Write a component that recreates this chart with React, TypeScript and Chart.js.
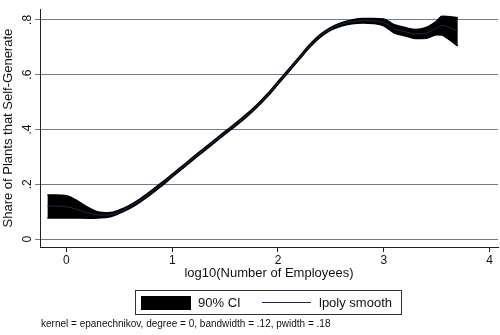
import React, { useEffect, useRef } from "react";
import { Chart, registerables } from "chart.js";

Chart.register(...registerables);

// ---- data ----
const xs = [-0.18, -0.1, 0, 0.1, 0.2, 0.3, 0.4, 0.5, 0.6, 0.7, 0.8, 0.9, 1.0, 1.1, 1.2, 1.3, 1.4, 1.5, 1.6, 1.7, 1.8, 1.9, 2.0, 2.1, 2.2, 2.3, 2.4, 2.5, 2.6, 2.7, 2.8, 2.9, 3.0, 3.1, 3.2, 3.3, 3.4, 3.5, 3.55, 3.6, 3.7];
const fit = [0.120, 0.120, 0.118, 0.108, 0.096, 0.088, 0.088, 0.100, 0.118, 0.142, 0.170, 0.200, 0.232, 0.263, 0.295, 0.326, 0.357, 0.388, 0.418, 0.450, 0.485, 0.525, 0.570, 0.615, 0.660, 0.705, 0.742, 0.768, 0.784, 0.793, 0.797, 0.796, 0.790, 0.767, 0.757, 0.749, 0.752, 0.770, 0.780, 0.776, 0.757];
const ciLow = [0.077, 0.077, 0.077, 0.077, 0.076, 0.077, 0.080, 0.094, 0.112, 0.136, 0.164, 0.194, 0.227, 0.258, 0.290, 0.321, 0.352, 0.383, 0.413, 0.445, 0.480, 0.520, 0.565, 0.610, 0.655, 0.700, 0.737, 0.763, 0.778, 0.786, 0.789, 0.787, 0.778, 0.752, 0.742, 0.732, 0.733, 0.746, 0.745, 0.733, 0.705];
const ciHigh = [0.161, 0.161, 0.158, 0.140, 0.116, 0.099, 0.096, 0.106, 0.124, 0.148, 0.176, 0.206, 0.237, 0.268, 0.300, 0.331, 0.362, 0.393, 0.423, 0.455, 0.490, 0.530, 0.575, 0.620, 0.665, 0.710, 0.747, 0.773, 0.790, 0.800, 0.805, 0.805, 0.803, 0.782, 0.772, 0.765, 0.772, 0.796, 0.813, 0.812, 0.808];

const xTicks = [0, 1, 2, 3, 4];
const xTickLabels = ["0", "1", "2", "3", "4"];
const yTicks = [0, 0.2, 0.4, 0.6, 0.8];
const yTickLabels = ["0", ".2", ".4", ".6", ".8"];

const xTitle = "log10(Number of Employees)";
const yTitle = "Share of Plants that Self-Generate";
const legendLabels = ["90% CI", "lpoly smooth"];
const noteText = "kernel = epanechnikov, degree = 0, bandwidth = .12, pwidth = .18";

const FONT = "'Liberation Sans', Arial, sans-serif";
const TEXT = "#111111";
const GRID = "#6f7f8c";
const LINE = "#1d2b48";

const pts = (ys: number[]) => xs.map((x, i) => ({ x, y: ys[i] }));

const legendPlugin = {
  id: "stataLegend",
  afterDraw(chart: any) {
    const ctx = chart.ctx;
    ctx.save();
    // legend box
    ctx.strokeStyle = "#333333";
    ctx.lineWidth = 1;
    ctx.strokeRect(135.5, 290.5, 266, 24);
    // CI swatch
    ctx.fillStyle = "#000000";
    ctx.fillRect(141, 296, 50, 14);
    ctx.font = `13px ${FONT}`;
    ctx.fillStyle = TEXT;
    ctx.textBaseline = "middle";
    ctx.textAlign = "left";
    ctx.fillText(legendLabels[0], 198, 303);
    // line swatch
    ctx.strokeStyle = LINE;
    ctx.beginPath();
    ctx.moveTo(262, 302.5);
    ctx.lineTo(311, 302.5);
    ctx.stroke();
    ctx.fillText(legendLabels[1], 319, 303);
    // note
    ctx.font = `10px ${FONT}`;
    ctx.fillText(noteText, 41, 324);
    ctx.restore();
  },
};

export default function App() {
  const ref = useRef<HTMLCanvasElement | null>(null);
  useEffect(() => {
    document.body.style.margin = "0";
    const canvas = ref.current;
    if (!canvas) return;
    const chart = new Chart(canvas, {
      type: "line",
      data: {
        datasets: [
          {
            label: legendLabels[1],
            data: pts(fit),
            borderColor: LINE,
            borderWidth: 1,
            pointRadius: 0,
            fill: false,
            cubicInterpolationMode: "monotone",
          },
          {
            label: "ci-low",
            data: pts(ciLow),
            borderColor: "#000000",
            borderWidth: 1.5,
            pointRadius: 0,
            fill: false,
            cubicInterpolationMode: "monotone",
          },
          {
            label: legendLabels[0],
            data: pts(ciHigh),
            borderColor: "#000000",
            backgroundColor: "#000000",
            borderWidth: 1.5,
            pointRadius: 0,
            fill: "-1",
            cubicInterpolationMode: "monotone",
          },
        ],
      },
      options: {
        responsive: false,
        animation: false,
        events: [],
        layout: { padding: { top: 4, right: 2, left: 0, bottom: 53 } },
        plugins: { legend: { display: false }, tooltip: { enabled: false } },
        scales: {
          x: {
            type: "linear",
            min: -0.25,
            max: 4.08,
            afterBuildTicks: (s: any) => {
              s.ticks = xTicks.map((v) => ({ value: v }));
            },
            afterFit: (s: any) => {
              s.height = 35;
            },
            ticks: {
              callback: (v: any) => xTickLabels[xTicks.indexOf(Number(v))] ?? "",
              font: { family: FONT, size: 12 },
              color: TEXT,
              padding: 1,
              maxRotation: 0,
              autoSkip: false,
            },
            grid: { drawOnChartArea: false, drawTicks: true, tickLength: 5, color: "#222222" },
            border: { display: true, color: "#222222", width: 1 },
            title: {
              display: true,
              text: xTitle,
              font: { family: FONT, size: 13 },
              color: TEXT,
              padding: { top: 0, bottom: 1 },
            },
          },
          y: {
            type: "linear",
            min: -0.029,
            max: 0.839,
            afterBuildTicks: (s: any) => {
              s.ticks = yTicks.map((v) => ({ value: v }));
            },
            afterFit: (s: any) => {
              s.width = 40;
            },
            ticks: {
              callback: (v: any) => {
                const i = yTicks.findIndex((t) => Math.abs(t - Number(v)) < 1e-9);
                return i >= 0 ? yTickLabels[i] : "";
              },
              font: { family: FONT, size: 12 },
              color: TEXT,
              padding: 2,
              minRotation: 90,
              maxRotation: 90,
              crossAlign: "center",
              autoSkip: false,
            },
            grid: { drawOnChartArea: true, drawTicks: true, tickLength: 5, color: GRID },
            border: { display: true, color: "#222222", width: 1 },
            title: {
              display: true,
              text: yTitle,
              font: { family: FONT, size: 13 },
              color: TEXT,
              padding: { top: 1, bottom: 0 },
            },
          },
        },
      },
      plugins: [legendPlugin],
    } as any);
    return () => chart.destroy();
  }, []);
  return (
    <div style={{ width: 500, height: 335, background: "#ffffff" }}>
      <canvas ref={ref} width={500} height={335} />
    </div>
  );
}
